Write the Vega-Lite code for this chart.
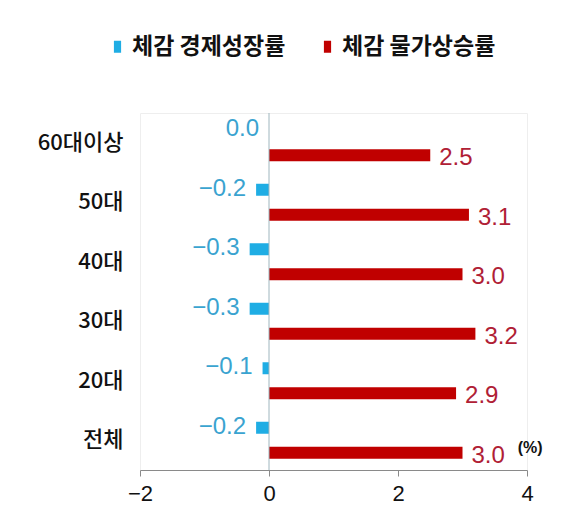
{
  "$schema": "https://vega.github.io/schema/vega-lite/v6.json",
  "width": 387,
  "height": 357,
  "autosize": {"type": "none"},
  "padding": {"left": 140, "top": 113, "right": 36, "bottom": 57},
  "background": "white",
  "config": {
    "view": {"stroke": "#eeeeee"},
    "font": "Liberation Sans"
  },
  "data": {
    "values": [
      {"age": "60대이상", "series": "체감 경제성장률", "value": 0.0},
      {"age": "50대", "series": "체감 경제성장률", "value": -0.2},
      {"age": "40대", "series": "체감 경제성장률", "value": -0.3},
      {"age": "30대", "series": "체감 경제성장률", "value": -0.3},
      {"age": "20대", "series": "체감 경제성장률", "value": -0.1},
      {"age": "전체", "series": "체감 경제성장률", "value": -0.2},
      {"age": "60대이상", "series": "체감 물가상승률", "value": 2.5},
      {"age": "50대", "series": "체감 물가상승률", "value": 3.1},
      {"age": "40대", "series": "체감 물가상승률", "value": 3.0},
      {"age": "30대", "series": "체감 물가상승률", "value": 3.2},
      {"age": "20대", "series": "체감 물가상승률", "value": 2.9},
      {"age": "전체", "series": "체감 물가상승률", "value": 3.0}
    ]
  },
  "encoding": {
    "y": {
      "field": "age",
      "type": "nominal",
      "sort": ["60대이상", "50대", "40대", "30대", "20대", "전체"],
      "scale": {"paddingInner": 0, "paddingOuter": 0},
      "axis": {
        "title": null,
        "domain": false,
        "ticks": false,
        "labelPadding": 17,
        "labelFont": "Noto Sans CJK KR",
        "labelFontSize": 22,
        "labelFontWeight": 500,
        "labelColor": "#111111"
      }
    },
    "yOffset": {
      "field": "series",
      "type": "nominal",
      "sort": ["체감 경제성장률", "체감 물가상승률"],
      "scale": {"paddingInner": 0.52, "paddingOuter": 0.45}
    }
  },
  "layer": [
    {
      "mark": {"type": "bar"},
      "encoding": {
        "x": {
          "field": "value",
          "type": "quantitative",
          "scale": {"domain": [-2, 4], "nice": false, "zero": false},
          "axis": {
            "title": null,
            "values": [-2, 0, 2, 4],
            "grid": false,
            "domainColor": "#8a8a8a",
            "tickColor": "#8a8a8a",
            "tickSize": 6,
            "labelPadding": 7,
            "labelFont": "Liberation Sans",
            "labelFontSize": 22,
            "labelColor": "#111111",
            "labelFlush": false,
            "format": "d"
          }
        },
        "x2": {"datum": 0},
        "color": {
          "field": "series",
          "type": "nominal",
          "scale": {
            "domain": ["체감 경제성장률", "체감 물가상승률"],
            "range": ["#1FADE4", "#C00000"]
          },
          "legend": {
            "title": null,
            "orient": "none",
            "direction": "horizontal",
            "legendX": -34,
            "legendY": -78,
            "padding": 0,
            "symbolType": "M-0.6,-1H0.6V1H-0.6Z",
            "symbolSize": 144,
            "symbolStrokeWidth": 0,
            "labelOffset": 3,
            "columnPadding": 30,
            "labelFont": "Noto Sans CJK KR",
            "labelFontSize": 23,
            "labelFontWeight": "bold",
            "labelColor": "#111111"
          }
        }
      }
    },
    {
      "data": {"values": [{}]},
      "mark": {"type": "rule", "color": "#9fb6be", "strokeWidth": 1},
      "encoding": {"x": {"datum": 0, "type": "quantitative"}, "y": null, "yOffset": null}
    },
    {
      "transform": [{"filter": "datum.series === '체감 경제성장률'"}],
      "mark": {"type": "text", "align": "right", "baseline": "middle", "dx": -10, "dy": -1, "fontSize": 24, "font": "Liberation Sans", "color": "#3AA3D0"},
      "encoding": {
        "x": {"field": "value", "type": "quantitative"},
        "text": {"field": "value", "type": "quantitative", "format": ".1f"}
      }
    },
    {
      "transform": [{"filter": "datum.series === '체감 물가상승률'"}],
      "mark": {"type": "text", "align": "left", "baseline": "middle", "dx": 9, "dy": 3, "fontSize": 24, "font": "Liberation Sans", "color": "#B02035"},
      "encoding": {
        "x": {"field": "value", "type": "quantitative"},
        "text": {"field": "value", "type": "quantitative", "format": ".1f"}
      }
    },
    {
      "data": {"values": [{"unit": "(%)"}]},
      "mark": {"type": "text", "align": "center", "baseline": "middle", "dy": 8, "fontSize": 16, "fontWeight": "bold", "font": "Liberation Sans", "color": "#111111"},
      "encoding": {
        "x": {"datum": 4.05, "type": "quantitative"},
        "y": {"datum": "전체", "type": "nominal"},
        "yOffset": null,
        "text": {"field": "unit"}
      }
    }
  ]
}
